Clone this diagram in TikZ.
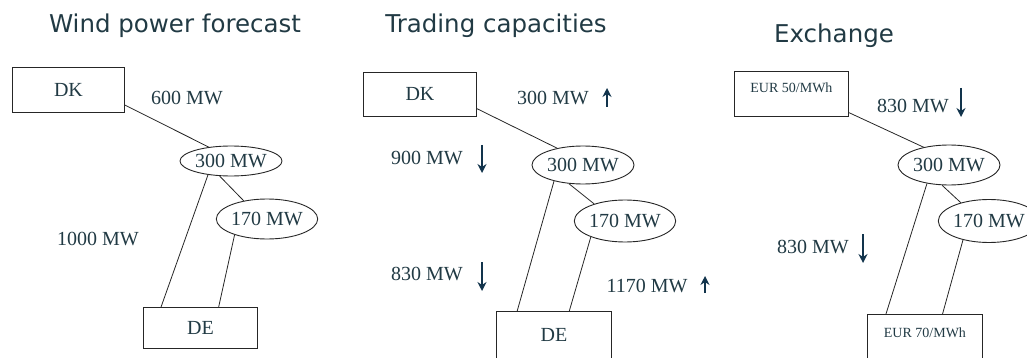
\documentclass[tikz,border=0pt]{standalone}
\usepackage{fontspec}
\setmainfont{Liberation Serif}
\newfontfamily\titlefont{DejaVu Sans}
\usepackage{tikz}
\usetikzlibrary{arrows.meta,shapes.geometric}

\definecolor{slatetext}{RGB}{33,58,68}
\definecolor{flowarrow}{RGB}{18,52,76}

\begin{document}
\begin{tikzpicture}[
  x=1pt, y=-1pt,
  title/.style={font=\titlefont\fontsize{24.5}{27}\selectfont, text=slatetext, anchor=base},
  mwlabel/.style={font=\fontsize{20}{22}\selectfont, text=slatetext, anchor=base},
  area/.style={draw=black!85, line width=0.9pt, rectangle, inner sep=0pt, anchor=north west,
    font=\fontsize{20}{22}\selectfont, text=slatetext},
  pricebox/.style={area, font=\fontsize{14}{16}\selectfont},
  flowgate/.style={draw=black!85, line width=0.9pt, ellipse, inner sep=0pt,
    font=\fontsize{20}{22}\selectfont, text=slatetext},
  line/.style={draw=black!85, line width=0.8pt},
  down/.style={draw=flowarrow, line width=1.8pt, -{Stealth[length=9pt,width=9pt]}},
  up/.style={down}
]
  \useasboundingbox (0,0) rectangle (1027,358);
  \clip (0,0) rectangle (1027,358);

  % Titles
  \node[title] (t1) at (175,33) {Wind power forecast};
  \node[title] (t2) at (496,33) {Trading capacities};
  \node[title] (t3) at (834,43) {Exchange};

  % Wind power forecast
  \node[area, minimum width=112pt, minimum height=45pt] (dk1) at (12,67) {DK};
  \node[flowgate, minimum width=102pt, minimum height=30pt] (a1) at (231,161) {300 MW};
  \node[flowgate, minimum width=100pt, minimum height=40pt] (b1) at (267,219) {170 MW};
  \node[area, minimum width=114pt, minimum height=41pt] (de1) at (143,307) {DE};
  \node[mwlabel] (l11) at (187,105) {600 MW};
  \node[mwlabel] (l12) at (98,245) {1000 MW};

  \draw[line] (dk1.-15) -- (a1.148);
  \draw[line] (a1.233) -- (b1.142);
  \draw[line] (a1.211) -- (de1.152);
  \draw[line] (b1.206) -- (de1.49);

  % Trading capacities
  \node[area, minimum width=113pt, minimum height=44pt] (dk2) at (363,72) {DK};
  \node[flowgate, minimum width=102pt, minimum height=38pt] (a2) at (583,165) {300 MW};
  \node[flowgate, minimum width=100pt, minimum height=42pt] (b2) at (625,221) {170 MW};
  \node[area, minimum width=115pt, text height=22.5pt, text depth=16pt, inner ysep=8pt] (de2) at (496,311) {DE};
  \node[mwlabel] (l21) at (553,105) {300 MW};
  \node[mwlabel] (l22) at (427,165) {900 MW};
  \node[mwlabel] (l23) at (427,280) {830 MW};
  \node[mwlabel] (l24) at (647,292) {1170 MW};
  \coordinate (u21s) at (607,107); \coordinate (u21e) at (607,88);
  \coordinate (d22s) at (482,145); \coordinate (d22e) at (482,173);
  \coordinate (d23s) at (482,262); \coordinate (d23e) at (482,291);
  \coordinate (u24s) at (705,293); \coordinate (u24e) at (705,276);
  \draw[up] (u21s) -- (u21e);
  \draw[down] (d22s) -- (d22e);
  \draw[down] (d23s) -- (d23e);
  \draw[up] (u24s) -- (u24e);

  \draw[line] (dk2.-14) -- (a2.147);
  \draw[line] (a2.233) -- (b2.151);
  \draw[line] (a2.209) -- (de2.143);
  \draw[line] (b2.205) -- (de2.61);

  % Exchange
  \node[pricebox, minimum width=114pt, text height=17pt, text depth=20pt, inner ysep=4pt] (p1) at (734,71) {EUR 50/MWh};
  \node[flowgate, minimum width=102pt, minimum height=40pt] (a3) at (949,165) {300 MW};
  \node[flowgate, minimum width=100pt, minimum height=43pt] (b3) at (989,221) {170 MW};
  \node[pricebox, minimum width=115pt, text height=18pt, text depth=32pt, inner ysep=5pt] (p2) at (867,314) {EUR 70/MWh};
  \node[mwlabel] (l31) at (913,113) {830 MW};
  \node[mwlabel] (l32) at (813,253) {830 MW};
  \coordinate (d31s) at (961,88); \coordinate (d31e) at (961,117);
  \coordinate (d32s) at (863,234); \coordinate (d32e) at (863,263);
  \draw[down] (d31s) -- (d31e);
  \draw[down] (d32s) -- (d32e);

  \draw[line] (p1.-18) -- (a3.145);
  \draw[line] (a3.251) -- (b3.147);
  \draw[line] (a3.220) -- (p2.142);
  \draw[line] (b3.216) -- (p2.60);

\end{tikzpicture}
\end{document}
